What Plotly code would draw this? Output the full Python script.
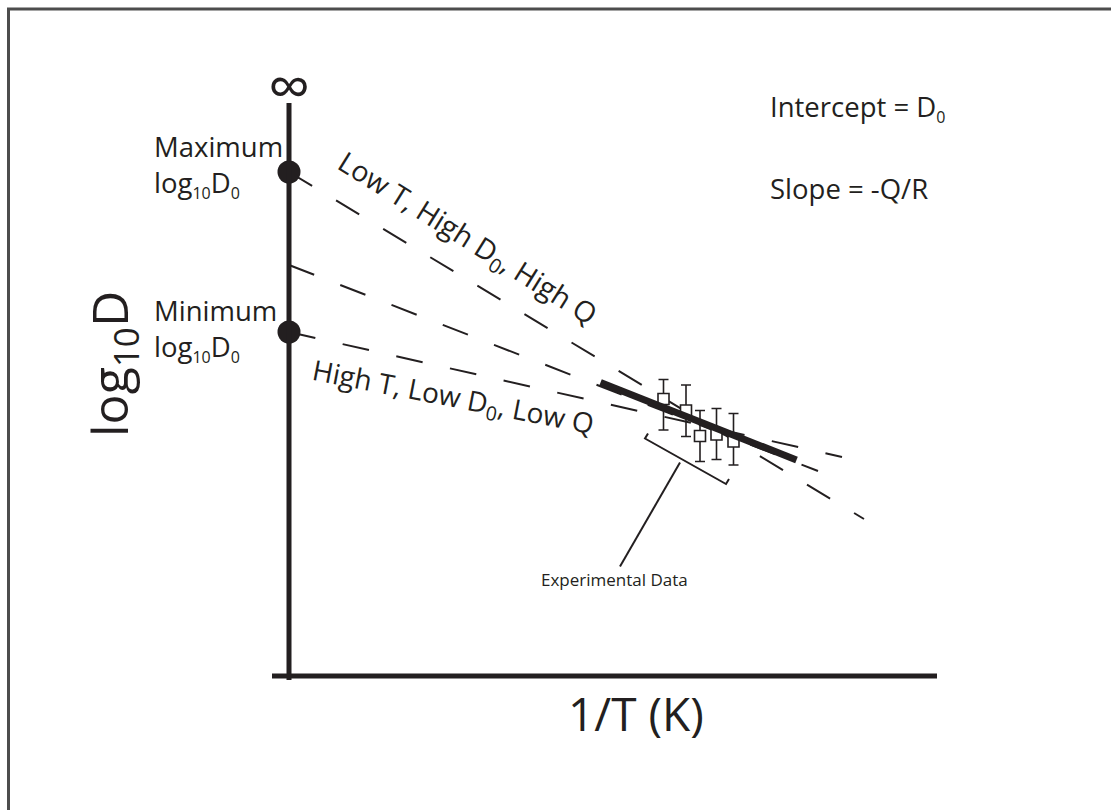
import plotly.graph_objects as go

# ---- schematic values (arbitrary units: x = 1/T, y = log10 D) ----
# Arrhenius lines: [start, end] of each extrapolation
line_names = ["Low T, High D0, High Q", "best fit", "High T, Low D0, Low Q"]
line_x = [[0.0, 11.50], [0.0, 10.58], [0.0, 11.06]]
line_y = [[10.08, 3.14], [8.22, 4.10], [6.88, 4.38]]

# fit through the measurements
fit_x = [6.23, 10.15]
fit_y = [5.87, 4.32]

# experimental measurements with error bars
exp_x = [7.49, 7.94, 8.22, 8.55, 8.89]
exp_y = [5.54, 5.31, 4.80, 4.83, 4.69]
err_plus = [0.39, 0.51, 0.51, 0.52, 0.56]
err_minus = [0.62, 0.52, 0.51, 0.50, 0.47]

# intercepts on the log10 D axis
d0_x = [0.0, 0.0]
d0_y = [10.08, 6.88]

# bracket marking the experimental range and its leader
bracket_x = [7.18, 7.12, 8.74, 8.80]
bracket_y = [4.85, 4.75, 3.84, 3.94]
leader_x = [7.82, 6.62]
leader_y = [4.27, 2.19]

# axis extents
x_axis_span = [-0.34, 12.96]
y_axis_span = [-0.08, 11.46]

INK = "#231f20"
FONT = "Open Sans"

fig = go.Figure()

for xs, ys in zip(line_x, line_y):
    fig.add_trace(go.Scatter(
        x=xs, y=ys, mode="lines",
        line=dict(color=INK, width=2, dash="27px,28px"),
        hoverinfo="skip", showlegend=False))

fig.add_trace(go.Scatter(
    x=bracket_x, y=bracket_y, mode="lines",
    line=dict(color=INK, width=2), hoverinfo="skip", showlegend=False))
fig.add_trace(go.Scatter(
    x=leader_x, y=leader_y, mode="lines",
    line=dict(color=INK, width=2), hoverinfo="skip", showlegend=False))

fig.add_trace(go.Scatter(
    x=exp_x, y=exp_y, mode="markers",
    marker=dict(symbol="square", size=11, color="white",
                line=dict(color=INK, width=1.6)),
    error_y=dict(type="data", symmetric=False, array=err_plus,
                 arrayminus=err_minus, color=INK, thickness=1.6, width=5),
    showlegend=False))

fig.add_trace(go.Scatter(
    x=fit_x, y=fit_y, mode="lines",
    line=dict(color=INK, width=7), hoverinfo="skip", showlegend=False))

# axes of the diagram
fig.add_shape(type="line", x0=0, x1=0, y0=y_axis_span[0], y1=y_axis_span[1],
              line=dict(color=INK, width=5), layer="above")
fig.add_shape(type="line", x0=x_axis_span[0], x1=x_axis_span[1], y0=0, y1=0,
              line=dict(color=INK, width=5), layer="above")

fig.add_trace(go.Scatter(
    x=d0_x, y=d0_y, mode="markers",
    marker=dict(size=23, color=INK), showlegend=False))

# page frame
fig.add_shape(type="rect", xref="paper", yref="paper",
              x0=8.5 / 1111, x1=1.05, y0=-0.05, y1=1 - 9 / 810,
              line=dict(color="#4d4d4d", width=3))

def label(text, x, y, size, **kw):
    fig.add_annotation(text=text, x=x, y=y, showarrow=False,
                       font=dict(family=FONT, size=size, color=INK), **kw)

SUB = '<sub><span style="font-size:16px">{}</span></sub>'

label("\u221e", 0.0, 11.82, 60)
label("Maximum<br>log" + SUB.format("10") + "D" + SUB.format("0"),
      -2.74, 10.20, 27.5, xanchor="left", align="left")
label("Minimum<br>log" + SUB.format("10") + "D" + SUB.format("0"),
      -2.74, 6.92, 27.5, xanchor="left", align="left")
label("Intercept = D" + SUB.format("0"), 9.58, 11.36, 27.5, xanchor="left")
label("Slope = -Q/R", 9.58, 9.76, 27.5, xanchor="left")
label("Low T, High D<sub>0</sub>, High Q", 3.56, 8.74, 28.5, textangle=32)
label("High T, Low D<sub>0</sub>, Low Q", 3.28, 5.56, 28, textangle=11)
label("Experimental Data", 6.5, 1.94, 17)
label("1/T (K)", 6.94, -0.74, 46)
label("log<sub>10</sub>D", -3.54, 6.24, 50, textangle=-90)

fig.update_layout(
    width=1111, height=810,
    margin=dict(l=0, r=0, t=0, b=0),
    paper_bgcolor="white", plot_bgcolor="white",
    xaxis=dict(range=[-5.78, 16.44], visible=False, fixedrange=True),
    yaxis=dict(range=[-2.68, 13.52], visible=False, fixedrange=True),
    showlegend=False,
)

fig.write_html("out.html")
